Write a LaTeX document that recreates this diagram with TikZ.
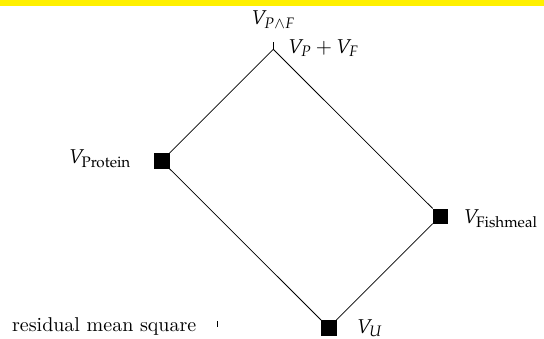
\documentclass[tikz,border=0pt]{standalone}
\usepackage{mathpazo}
\usepackage{tikz}
\usetikzlibrary{positioning}
\definecolor{topbar}{RGB}{255,240,0}

\begin{document}
\begin{tikzpicture}[x=0.5pt,y=0.5pt, lab/.style={inner sep=0pt,font=\normalsize}, vert/.style={draw=black,fill=black,inner sep=0pt,minimum size=7.2pt}, edge/.style={line width=0.4pt}]
  \useasboundingbox (0,0) rectangle (544,338);
  \fill[topbar] (0,332) rectangle (544,338);
  % lattice of models
  \coordinate (top) at (273.3,288.7);
  \node[vert] (prot) at (161.7,177.1) {};
  \node[vert] (fish) at (440.3,121.9) {};
  \node[vert] (unit) at (328.7,10.3) {};
  \draw[edge] (top) -- (prot) -- (unit) -- (fish) -- (top);
  \coordinate (toptick) at (273.3,296.3);
  \draw[edge] (top) -- (toptick);
  % labels
  \node[lab,anchor=base] (lpf) at (273.5,313) {$V_{P\wedge F}$};
  \node[lab,anchor=base west] (lsum) at (288,284.7) {$V_P+V_F$};
  \node[lab,anchor=base east] (lprot) at (131.7,174.7) {$V_{\mathrm{Protein}}$};
  \node[lab,anchor=base west] (lfish) at (463.3,114.7) {$V_{\mathrm{Fishmeal}}$};
  \node[lab,anchor=base west] (lunit) at (356.7,5) {$V_U$};
  \node[lab,anchor=base west] (lres) at (11.7,6.3) {residual mean square};
  \coordinate (rtick0) at (217,11.3);
  \coordinate (rtick1) at (217,17.3);
  \draw[edge] (rtick0) -- (rtick1);
\end{tikzpicture}
\end{document}
